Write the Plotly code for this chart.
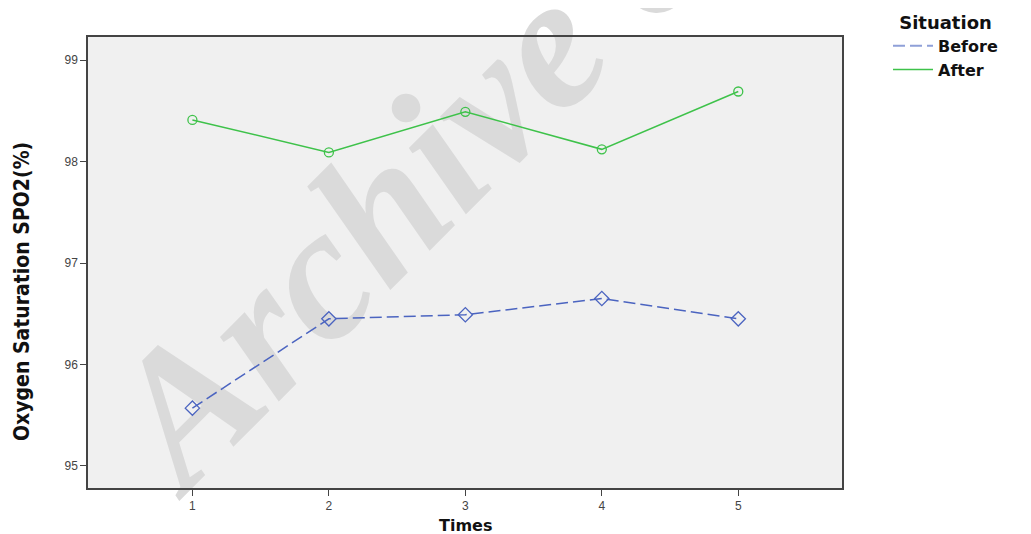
import plotly.graph_objects as go

times = [1, 2, 3, 4, 5]
before_vals = [95.57, 96.45, 96.49, 96.65, 96.45]
after_vals = [98.41, 98.09, 98.49, 98.12, 98.69]
y_ticks = [95, 96, 97, 98, 99]

BLUE = "#4b64c0"
GREEN = "#3ec24a"

fig = go.Figure()
fig.add_trace(go.Scatter(
    x=times, y=before_vals, name="Before", mode="lines+markers", showlegend=False,
    line=dict(color=BLUE, width=1.5, dash="12px,5px"),
    marker=dict(symbol="diamond-open", size=11, color=BLUE, line=dict(width=1.3)),
))
fig.add_trace(go.Scatter(
    x=times, y=after_vals, name="After", mode="lines+markers", showlegend=False,
    line=dict(color=GREEN, width=1.5),
    marker=dict(symbol="circle-open", size=9, color=GREEN, line=dict(width=1.3)),
))
# legend entries (line samples only)
fig.add_trace(go.Scatter(x=[None], y=[None], name="Before", mode="lines",
                         line=dict(color="#8fa0d8", width=2, dash="12px,5px")))
fig.add_trace(go.Scatter(x=[None], y=[None], name="After", mode="lines",
                         line=dict(color=GREEN, width=1.5)))

# watermark
cx, cy = 0.605, 1.047
fig.add_shape(
    type="rect", xref="paper", yref="paper",
    x0=cx - 0.004, x1=cx + 0.004, y0=cy - 0.005, y1=cy + 0.005,
    line=dict(color="rgba(0,0,0,0)", width=0), fillcolor="rgba(0,0,0,0)",
    layer="below",
    label=dict(text="Archive of SID", textposition="middle center", textangle=-45,
               font=dict(family="Liberation Serif", size=190, color="#dadada",
                         weight="bold", style="italic")),
)

fig.add_annotation(
    text="<b>Oxygen Saturation SPO2(%)</b>", textangle=-90,
    xref="paper", yref="paper", x=(22 - 88) / 754, y=(488 - 292) / 451,
    xanchor="center", yanchor="middle", showarrow=False,
    font=dict(family="DejaVu Sans Condensed, Liberation Sans Narrow, sans-serif", size=21, color="#111"),
)
fig.add_annotation(
    text="<b>Times</b>",
    xref="paper", yref="paper", x=0.5, y=(488 - 525) / 451,
    xanchor="center", yanchor="middle", showarrow=False,
    font=dict(family="DejaVu Sans, sans-serif", size=16, color="#111"),
)

# page body has an 8px margin: shrink the figure by 8px and shift margins
fig.update_layout(
    width=1023, height=526,
    margin=dict(l=80, r=189, t=29, b=46, autoexpand=False),
    paper_bgcolor="white", plot_bgcolor="#f0f0f0",
    font=dict(family="Liberation Sans, Arial, sans-serif", color="#222"),
    showlegend=True,
    legend=dict(
        x=1.061, y=1.07, xanchor="left", yanchor="top",
        bgcolor="rgba(0,0,0,0)",
        title=dict(text="<b>Situation</b>", side="top center",
                   font=dict(size=18, color="#111", family="DejaVu Sans, sans-serif")),
        font=dict(size=16, color="#111", weight="bold", family="DejaVu Sans, sans-serif"),
        itemwidth=40, tracegroupgap=0,
    ),
    xaxis=dict(
        range=[0.235, 5.76], tickvals=times, ticktext=[str(t) for t in times],
        showgrid=False, zeroline=False,
        showline=True, mirror=True, linecolor="#444", linewidth=1.5,
        ticks="outside", ticklen=6, tickcolor="#444",
        tickfont=dict(size=12, color="#444"),
    ),
    yaxis=dict(
        range=[94.783, 99.227], tickvals=y_ticks,
        showgrid=False, zeroline=False,
        showline=True, mirror=True, linecolor="#444", linewidth=1.5,
        ticks="outside", ticklen=6, tickcolor="#444",
        tickfont=dict(size=12, color="#444"),
    ),
)

fig.write_html("out.html")
